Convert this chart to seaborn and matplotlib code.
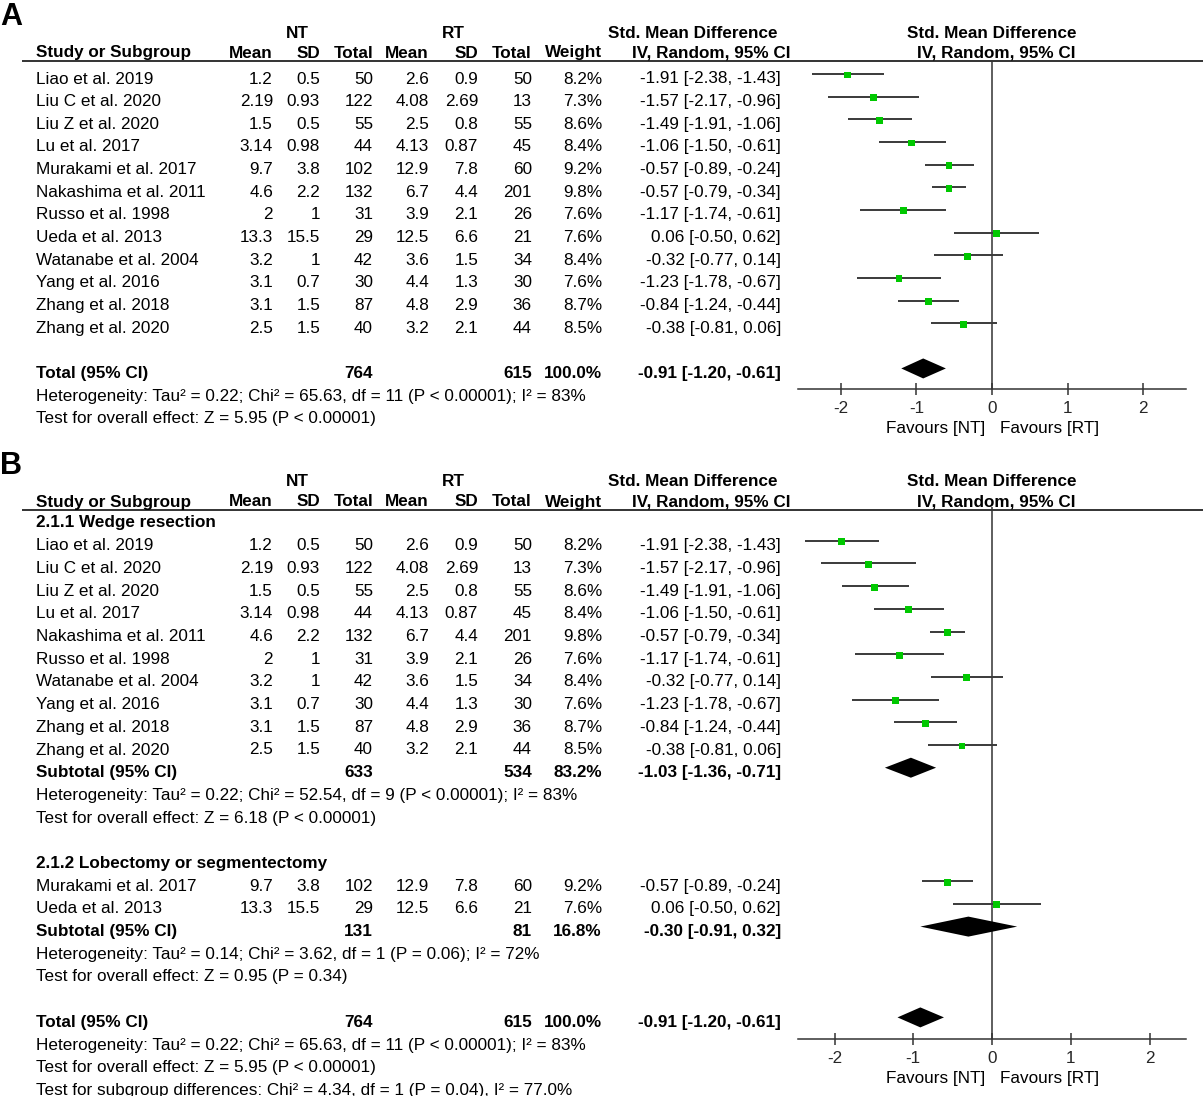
import numpy as np
import pandas as pd
import matplotlib
matplotlib.use("Agg")
import matplotlib.pyplot as plt
import seaborn as sns

# ---------------- data ----------------
studies = ["Liao et al. 2019", "Liu C et al. 2020", "Liu Z et al. 2020", "Lu et al. 2017",
           "Murakami et al. 2017", "Nakashima et al. 2011", "Russo et al. 1998", "Ueda et al. 2013",
           "Watanabe et al. 2004", "Yang et al. 2016", "Zhang et al. 2018", "Zhang et al. 2020"]
nt_mean = [1.2, 2.19, 1.5, 3.14, 9.7, 4.6, 2, 13.3, 3.2, 3.1, 3.1, 2.5]
nt_sd = [0.5, 0.93, 0.5, 0.98, 3.8, 2.2, 1, 15.5, 1, 0.7, 1.5, 1.5]
nt_total = [50, 122, 55, 44, 102, 132, 31, 29, 42, 30, 87, 40]
rt_mean = [2.6, 4.08, 2.5, 4.13, 12.9, 6.7, 3.9, 12.5, 3.6, 4.4, 4.8, 3.2]
rt_sd = [0.9, 2.69, 0.8, 0.87, 7.8, 4.4, 2.1, 6.6, 1.5, 1.3, 2.9, 2.1]
rt_total = [50, 13, 55, 45, 60, 201, 26, 21, 34, 30, 36, 44]
weight = [8.2, 7.3, 8.6, 8.4, 9.2, 9.8, 7.6, 7.6, 8.4, 7.6, 8.7, 8.5]
smd = [-1.91, -1.57, -1.49, -1.06, -0.57, -0.57, -1.17, 0.06, -0.32, -1.23, -0.84, -0.38]
ci_lo = [-2.38, -2.17, -1.91, -1.50, -0.89, -0.79, -1.74, -0.50, -0.77, -1.78, -1.24, -0.81]
ci_hi = [-1.43, -0.96, -1.06, -0.61, -0.24, -0.34, -0.61, 0.62, 0.14, -0.67, -0.44, 0.06]

subgroup_names = ["2.1.1 Wedge resection", "2.1.2 Lobectomy or segmentectomy"]
subgroup_members = [
    ["Liao et al. 2019", "Liu C et al. 2020", "Liu Z et al. 2020", "Lu et al. 2017",
     "Nakashima et al. 2011", "Russo et al. 1998", "Watanabe et al. 2004", "Yang et al. 2016",
     "Zhang et al. 2018", "Zhang et al. 2020"],
    ["Murakami et al. 2017", "Ueda et al. 2013"],
]
# pooled rows: NT total, RT total, weight, estimate, lower, upper
sub_nt = [633, 131]
sub_rt = [534, 81]
sub_w = [83.2, 16.8]
sub_est = [-1.03, -0.30]
sub_lo = [-1.36, -0.91]
sub_hi = [-0.71, 0.32]
sub_het = ["Heterogeneity: Tau\u00b2 = 0.22; Chi\u00b2 = 52.54, df = 9 (P < 0.00001); I\u00b2 = 83%",
           "Heterogeneity: Tau\u00b2 = 0.14; Chi\u00b2 = 3.62, df = 1 (P = 0.06); I\u00b2 = 72%"]
sub_test = ["Test for overall effect: Z = 6.18 (P < 0.00001)",
            "Test for overall effect: Z = 0.95 (P = 0.34)"]

tot_nt, tot_rt, tot_w = 764, 615, 100.0
tot_est, tot_lo, tot_hi = -0.91, -1.20, -0.61
tot_het = "Heterogeneity: Tau\u00b2 = 0.22; Chi\u00b2 = 65.63, df = 11 (P < 0.00001); I\u00b2 = 83%"
tot_test = "Test for overall effect: Z = 5.95 (P < 0.00001)"
subgroup_diff = "Test for subgroup differences: Chi\u00b2 = 4.34, df = 1 (P = 0.04), I\u00b2 = 77.0%"

xticks = [-2, -1, 0, 1, 2]
group_labels = ["NT", "RT"]
col_headers = ["Mean", "SD", "Total", "Mean", "SD", "Total", "Weight"]

df = pd.DataFrame(dict(study=studies, nt_mean=nt_mean, nt_sd=nt_sd, nt_total=nt_total,
                       rt_mean=rt_mean, rt_sd=rt_sd, rt_total=rt_total, weight=weight,
                       smd=smd, lo=ci_lo, hi=ci_hi)).set_index("study")

# ---------------- style ----------------
sns.set_theme(style="white")
plt.rcParams["font.family"] = ["Liberation Sans", "DejaVu Sans"]

W, H = 1203, 1096
fig = plt.figure(figsize=(W / 100, H / 100), dpi=100)
bg = fig.add_axes([0, 0, 1, 1])
bg.set_xlim(0, W)
bg.set_ylim(H, 0)
bg.axis("off")

FS = 12.3
LINE = "#333333"
GREEN = "#00c800"
X_LEFT = 36
COL_R = [273, 320, 373, 429, 478, 532, 602]
CI_R = 781
MARK_DY = -5


def fmt(v):
    return f"{v:g}"


def ci_text(e, l, h):
    return f"{e:.2f} [{l:.2f}, {h:.2f}]"


def txt(x, y, s, ha="left", bold=False, size=FS):
    bg.text(x, y, s, ha=ha, va="center", fontsize=size,
            fontweight="bold" if bold else "normal", color="black")


def header(y0, letter):
    txt(0, y0 - 36, letter, bold=True, size=22)
    txt(297, y0 - 20, group_labels[0], ha="center", bold=True)
    txt(453, y0 - 20, group_labels[1], ha="center", bold=True)
    txt(693, y0 - 20, "Std. Mean Difference", ha="center", bold=True)
    txt(992, y0 - 20, "Std. Mean Difference", ha="center", bold=True)
    txt(X_LEFT, y0, "Study or Subgroup", bold=True)
    for x, h in zip(COL_R, col_headers):
        txt(x, y0, h, ha="right", bold=True)
    txt(711, y0, "IV, Random, 95% CI", ha="center", bold=True)
    txt(996, y0, "IV, Random, 95% CI", ha="center", bold=True)
    bg.plot([22, W], [y0 + 8, y0 + 8], color=LINE, lw=1.4, solid_capstyle="butt")


def study_row(y, name):
    r = df.loc[name]
    txt(X_LEFT, y, name)
    vals = [fmt(r.nt_mean), fmt(r.nt_sd), f"{int(r.nt_total)}", fmt(r.rt_mean),
            fmt(r.rt_sd), f"{int(r.rt_total)}", f"{r.weight:.1f}%"]
    for x, v in zip(COL_R, vals):
        txt(x, y, v, ha="right")
    txt(CI_R, y, ci_text(r.smd, r.lo, r.hi), ha="right")


def pooled_row(y, label, n1, n2, w, e, l, h):
    txt(X_LEFT, y, label, bold=True)
    txt(COL_R[2], y, f"{n1}", ha="right", bold=True)
    txt(COL_R[5], y, f"{n2}", ha="right", bold=True)
    txt(COL_R[6], y, f"{w:.1f}%", ha="right", bold=True)
    txt(CI_R, y, ci_text(e, l, h), ha="right", bold=True)


def forest_axes(top, bottom, ppu):
    left, right = 798, 1186
    ax = fig.add_axes([left / W, 1 - bottom / H, (right - left) / W, (bottom - top) / H])
    ax.patch.set_alpha(0)
    ax.set_xlim((left - 992) / ppu, (right - 992) / ppu)
    ax.set_ylim(bottom, top)
    for s in ["top", "left", "right"]:
        ax.spines[s].set_visible(False)
    ax.spines["bottom"].set_color(LINE)
    ax.spines["bottom"].set_linewidth(1.1)
    ax.set_yticks([])
    ax.set_xticks(xticks)
    ax.set_xticklabels([f"{t}" for t in xticks])
    ax.tick_params(axis="x", direction="inout", length=9, width=1.1, color=LINE,
                   labelsize=FS, pad=4, bottom=True)
    ax.axvline(0, color=LINE, lw=1.1, zorder=1)
    ax.set_xlabel("")
    ax.set_ylabel("")
    return ax


def draw_studies(ax, names, ys):
    sub = df.loc[names]
    yy = np.array(ys) + MARK_DY
    ax.hlines(yy, sub["lo"], sub["hi"], color="#3a3a3a", lw=1.4, zorder=2)
    sns.scatterplot(x=sub["smd"].values, y=yy + 1, marker="s", s=24, color=GREEN,
                    edgecolor="none", linewidth=0, ax=ax, zorder=3, legend=False)


def diamond(ax, y, e, l, h):
    y = y + MARK_DY
    ax.fill([l, e, h, e], [y, y - 10, y, y + 10], color="black", lw=0, zorder=3)


def favours(y):
    txt(985, y, "Favours [NT]", ha="right")
    txt(1000, y, "Favours [RT]", ha="left")


# ---------------- Panel A ----------------
def rowA(slot):
    return 79 + 22.65 * slot

header(53, "A")
axA = forest_axes(61, 389, 75.6)
ysA = [rowA(i) for i in range(len(studies))]
for y, n in zip(ysA, studies):
    study_row(y, n)
draw_studies(axA, studies, ysA)
yt = rowA(13)
pooled_row(yt, "Total (95% CI)", tot_nt, tot_rt, tot_w, tot_est, tot_lo, tot_hi)
diamond(axA, yt, tot_est, tot_lo, tot_hi)
txt(X_LEFT, rowA(14), tot_het)
txt(X_LEFT, rowA(15), tot_test)
favours(428)

# ---------------- Panel B ----------------
def rowB(slot):
    return 523 + 22.7 * slot

header(502, "B")
axB = forest_axes(507, 1039, 78.75)
slot = 0
for gi, (gname, members) in enumerate(zip(subgroup_names, subgroup_members)):
    txt(X_LEFT, rowB(slot), gname, bold=True)
    slot += 1
    ys = []
    for n in members:
        study_row(rowB(slot), n)
        ys.append(rowB(slot))
        slot += 1
    draw_studies(axB, members, ys)
    ys_sub = rowB(slot)
    pooled_row(ys_sub, "Subtotal (95% CI)", sub_nt[gi], sub_rt[gi], sub_w[gi],
               sub_est[gi], sub_lo[gi], sub_hi[gi])
    diamond(axB, ys_sub, sub_est[gi], sub_lo[gi], sub_hi[gi])
    slot += 1
    txt(X_LEFT, rowB(slot), sub_het[gi])
    slot += 1
    txt(X_LEFT, rowB(slot), sub_test[gi])
    slot += 2
yt = rowB(slot)
pooled_row(yt, "Total (95% CI)", tot_nt, tot_rt, tot_w, tot_est, tot_lo, tot_hi)
diamond(axB, yt, tot_est, tot_lo, tot_hi)
txt(X_LEFT, rowB(slot + 1), tot_het)
txt(X_LEFT, rowB(slot + 2), tot_test)
txt(X_LEFT, rowB(slot + 3), subgroup_diff)
favours(1078)

fig.savefig("out.png", dpi=100)
